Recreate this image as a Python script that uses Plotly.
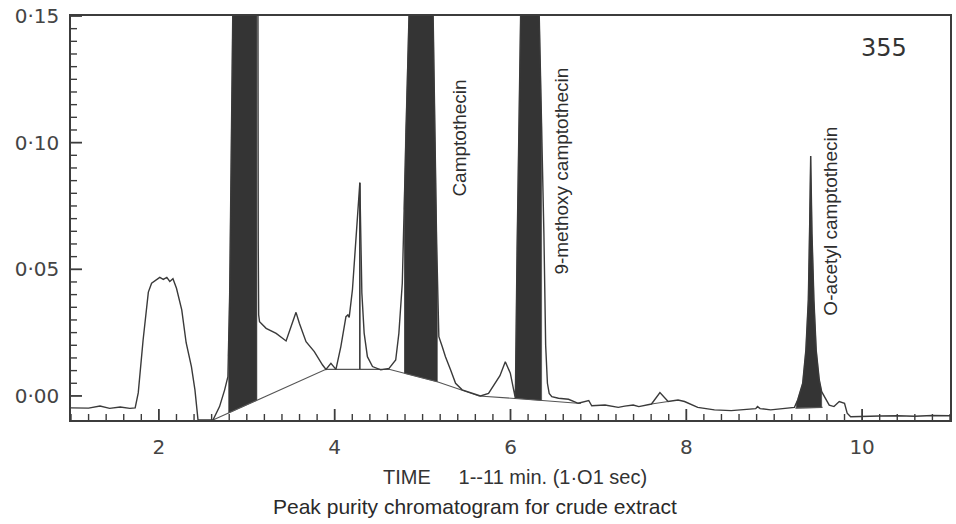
import numpy as np
import plotly.graph_objects as go

# ---- chromatogram trace (time in min, absorbance) ----
time = [1.00, 1.12, 1.20, 1.33, 1.44, 1.56, 1.67, 1.73, 1.765, 1.82, 1.88, 1.917,
        2.01, 2.05, 2.09, 2.124, 2.16, 2.20, 2.26, 2.31, 2.37, 2.41, 2.445,
        2.615, 2.69, 2.748, 2.785, 2.805, 2.84, 2.98, 3.127, 3.13, 3.135, 3.145,
        3.22, 3.334, 3.447, 3.56, 3.598, 3.674, 3.768, 3.862, 3.901, 3.957, 4.014,
        4.07, 4.128, 4.150, 4.165, 4.202, 4.286, 4.309, 4.335, 4.372, 4.43, 4.524,
        4.618, 4.694, 4.73, 4.769, 4.788, 4.807, 4.845, 4.98, 5.12, 5.16, 5.177,
        5.185, 5.223, 5.26, 5.318, 5.375, 5.45, 5.563, 5.658, 5.75, 5.88, 5.941,
        5.998, 6.036, 6.055, 6.075, 6.115, 6.22, 6.327, 6.38, 6.40, 6.42, 6.44,
        6.47, 6.546, 6.66, 6.77, 6.89, 6.924, 7.075, 7.226, 7.30, 7.396, 7.46,
        7.604, 7.70, 7.793, 7.906, 7.98, 8.13, 8.32, 8.51, 8.66, 8.79, 8.81,
        8.84, 8.96, 9.116, 9.23, 9.267, 9.324, 9.36, 9.388, 9.402, 9.415, 9.43,
        9.452, 9.478, 9.513, 9.54, 9.57, 9.626, 9.68, 9.74, 9.80, 9.83, 9.87,
        10.0, 10.2, 10.4, 10.6, 10.8, 11.0]
absorbance = [-0.0047, -0.0046, -0.0048, -0.0040, -0.0049, -0.0044, -0.0049, -0.0047,
              0.0012, 0.022, 0.041, 0.0445,
              0.0468, 0.0460, 0.0468, 0.0452, 0.0463, 0.0425, 0.034, 0.021, 0.0116,
              0.0024, -0.0095,
              -0.0095, -0.0042, 0.0024, 0.0076, 0.040, 0.150, 0.90, 0.150, 0.060,
              0.032, 0.0293,
              0.0267, 0.0247, 0.0217, 0.033, 0.0287, 0.0214, 0.0175, 0.0122, 0.0105,
              0.0129, 0.0105,
              0.0195, 0.0313, 0.0320, 0.031, 0.042, 0.0842, 0.0406, 0.0248, 0.0155,
              0.0116, 0.0103,
              0.0109, 0.0142, 0.0247, 0.0446, 0.070, 0.104, 0.150, 0.90, 0.150, 0.060,
              0.0248,
              0.0234, 0.0195, 0.0155, 0.0103, 0.0050, 0.0024, 0.0010, 0.0, 0.0010,
              0.0080, 0.0135,
              0.0090, 0.0024, -0.0009, 0.058, 0.150, 0.90, 0.150, 0.064, 0.020,
              0.0050, 0.0010,
              -0.0003, -0.0009, -0.0013, -0.0029, -0.0018, -0.0039, -0.0036, -0.0045,
              -0.0040, -0.0036, -0.0042,
              -0.0032, 0.0013, -0.0022, -0.0016, -0.0022, -0.0045, -0.0055, -0.0058,
              -0.0053, -0.0050, -0.0042,
              -0.0050, -0.0055, -0.0050, -0.0045, -0.0016, 0.0050, 0.018, 0.038,
              0.064, 0.0947, 0.064,
              0.038, 0.018, 0.0063, 0.0017, -0.0003, -0.0036, -0.0042, -0.0022,
              -0.0029, -0.0068, -0.0082,
              -0.0080, -0.0079, -0.0078, -0.0080, -0.0077, -0.0078]

# ---- drawn baselines under the peaks ----
baseline_time = [2.615, 3.901, 4.618, 5.166, 5.643, 6.059, 6.361, 6.80]
baseline_abs = [-0.0095, 0.0105, 0.0105, 0.0056, 0.0, -0.0009, -0.0018, -0.0030]
small_base_time = [7.604, 7.793]
small_base_abs = [-0.0032, -0.0022]
oac_base_time = [9.24, 9.55]
oac_base_abs = [-0.0048, -0.0045]

# ---- shaded (peak purity) windows ----
band_start = [2.79, 4.79, 6.055, 9.25]
band_end = [3.115, 5.168, 6.354, 9.54]

# ---- labels / ticks ----
peak_names = ["Camptothecin", "9-methoxy camptothecin", "O-acetyl camptothecin"]
peak_label_time = [5.42, 6.57, 9.64]
peak_label_abs = [0.1018, 0.0888, 0.069]
x_tick_vals = [2, 4, 6, 8, 10]
x_tick_text = ["2", "4", "6", "8", "10"]
x_minor_step = 0.2
y_tick_vals = [0.0, 0.05, 0.10, 0.15]
y_tick_text = ["0·00", "0·05", "0·10", "0·15"]
y_minor_step = 0.005
wavelength_label = "355"
x_title = "TIME\u00a0\u00a0\u00a0\u00a0 1--11 min. (1·O1 sec)"
caption = "Peak purity chromatogram for crude extract"

X_RANGE = [1, 11]
Y_RANGE = [-0.0095, 0.15]
W, H = 956, 524
M = dict(l=71, r=4, t=16, b=104)
PLOT_W = W - M["l"] - M["r"]
PLOT_H = H - M["t"] - M["b"]
# data units per pixel, used to give tick marks a fixed pixel length
X_PER_PX = (X_RANGE[1] - X_RANGE[0]) / PLOT_W
Y_PER_PX = (Y_RANGE[1] - Y_RANGE[0]) / PLOT_H

t = np.array(time)
a = np.array(absorbance)
all_bt = np.array(baseline_time + small_base_time + oac_base_time)
all_ba = np.array(baseline_abs + small_base_abs + oac_base_abs)

LINE = "#3a3a3a"
FILL = "#343434"
AXC = "#3c3c3c"

fig = go.Figure()

# shaded peak regions, computed from trace and baseline
for xa, xb in zip(band_start, band_end):
    m = (t > xa) & (t < xb)
    top_x = [xa] + list(t[m]) + [xb]
    top_y = [float(np.interp(xa, t, a))] + list(a[m]) + [float(np.interp(xb, t, a))]
    bm = (all_bt > xa) & (all_bt < xb)
    bot_x = [xb] + list(all_bt[bm][::-1]) + [xa]
    bot_y = ([float(np.interp(xb, all_bt, all_ba))] + list(all_ba[bm][::-1])
             + [float(np.interp(xa, all_bt, all_ba))])
    fig.add_trace(go.Scatter(x=top_x + bot_x, y=top_y + bot_y, mode="lines",
                             fill="toself", fillcolor=FILL,
                             line=dict(width=0.5, color=FILL), hoverinfo="skip"))

# baselines
for bx, by in [(baseline_time, baseline_abs), (small_base_time, small_base_abs),
               (oac_base_time, oac_base_abs)]:
    fig.add_trace(go.Scatter(x=bx, y=by, mode="lines",
                             line=dict(color="#555555", width=1.1), hoverinfo="skip"))

# main chromatogram
fig.add_trace(go.Scatter(x=time, y=absorbance, mode="lines",
                         line=dict(color=LINE, width=1.4)))

# drop line at the sharp spike near 4.3 min
win = (t > 4.2) & (t < 4.4)
i_sp = np.argmax(np.where(win, a, -1))
sp_x = float(t[i_sp])
fig.add_trace(go.Scatter(x=[sp_x, sp_x],
                         y=[float(np.interp(sp_x, all_bt, all_ba)), float(a[i_sp])],
                         mode="lines", line=dict(color=LINE, width=1.6)))

# inward tick marks built from the tick arrays, drawn as line traces on the axes' scales
x_minor = [float(v) for v in np.arange(X_RANGE[0], X_RANGE[1] + 1e-9, x_minor_step)
           if min(abs(v - mv) for mv in x_tick_vals) > 1e-6]
y_minor = [float(v) for v in np.arange(0, Y_RANGE[1] + 1e-9, y_minor_step)
           if min(abs(v - mv) for mv in y_tick_vals) > 1e-9]


def tick_segments(vals, length_px, vertical):
    xs, ys = [], []
    for v in vals:
        if vertical:
            xs += [v, v, None]
            ys += [Y_RANGE[0], Y_RANGE[0] + length_px * Y_PER_PX, None]
        else:
            xs += [X_RANGE[0], X_RANGE[0] + length_px * X_PER_PX, None]
            ys += [v, v, None]
    return xs, ys


for vals, ln, vert, wd in [(x_tick_vals, 11, True, 1.8), (x_minor, 6, True, 1.4),
                           (y_tick_vals, 11, False, 1.8), (y_minor, 6, False, 1.4)]:
    tx, ty = tick_segments(vals, ln, vert)
    fig.add_trace(go.Scatter(x=tx, y=ty, mode="lines", connectgaps=False,
                             line=dict(color=AXC, width=wd), hoverinfo="skip"))

annotations = []
for name, px, py in zip(peak_names, peak_label_time, peak_label_abs):
    annotations.append(dict(x=px, y=py, xref="x", yref="y", text=name, showarrow=False,
                            textangle=-90, xanchor="center", yanchor="middle",
                            font=dict(family="Liberation Sans, Arial", size=19, color="#2e2e2e")))
annotations.append(dict(x=10.25, y=0.1373, xref="x", yref="y", text=wavelength_label,
                        showarrow=False, xanchor="center", yanchor="middle",
                        font=dict(family="DejaVu Sans", size=24, color="#333")))
annotations.append(dict(x=0.5055, y=-0.1403, xref="paper", yref="paper", text=x_title,
                        showarrow=False, xanchor="center", yanchor="middle",
                        font=dict(family="Liberation Sans, Arial", size=20, color="#333")))
annotations.append(dict(x=0.4597, y=-0.2146, xref="paper", yref="paper", text=caption,
                        showarrow=False, xanchor="center", yanchor="middle",
                        font=dict(family="Liberation Sans, Arial", size=21, color="#2a2a2a")))

fig.update_layout(
    width=W, height=H,
    margin=M,
    plot_bgcolor="white", paper_bgcolor="white",
    showlegend=False,
    annotations=annotations,
    xaxis=dict(range=X_RANGE, showgrid=False, zeroline=False,
               showline=True, linecolor=AXC, linewidth=1.6, mirror=True,
               ticks="", tickmode="array", tickvals=x_tick_vals, ticktext=x_tick_text,
               ticklabelstandoff=8,
               tickfont=dict(family="DejaVu Sans", size=20, color="#444")),
    yaxis=dict(range=Y_RANGE, showgrid=False, zeroline=False,
               showline=True, linecolor=AXC, linewidth=1.6, mirror=True,
               ticks="", tickmode="array", tickvals=y_tick_vals, ticktext=y_tick_text,
               ticklabelstandoff=6,
               tickfont=dict(family="DejaVu Sans", size=20, color="#444")),
)

fig.write_html("out.html")
